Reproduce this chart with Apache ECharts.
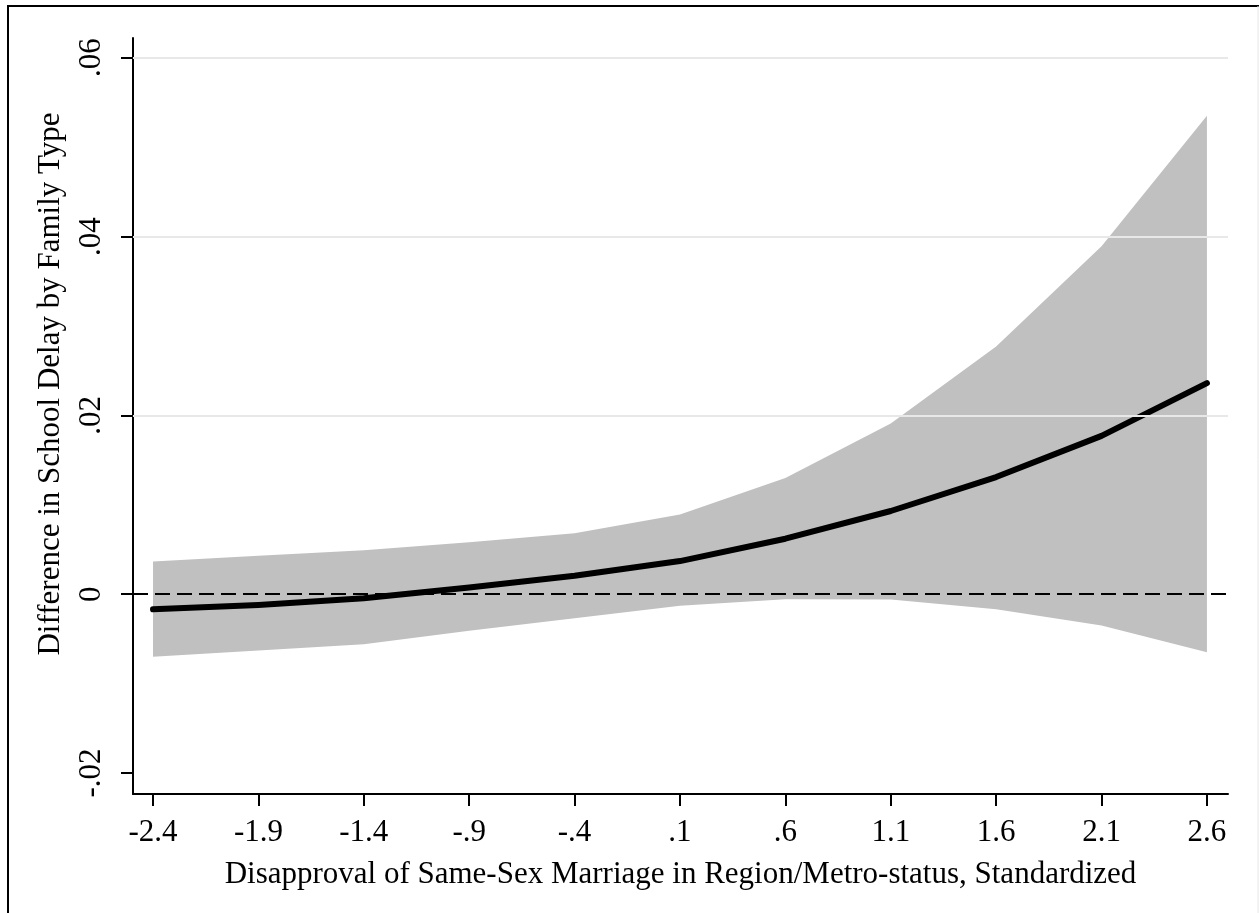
<!DOCTYPE html>
<html>
<head>
<meta charset="utf-8">
<script src="https://cdn.jsdelivr.net/npm/echarts@6/dist/echarts.min.js"></script>
<style>
  html, body { margin: 0; padding: 0; background: #fff; }
  #main { width: 1259px; height: 913px; }
</style>
</head>
<body>
<div id="main"></div>
<script>
  // x positions (standardized disapproval)
  var xValues = [-2.4, -1.9, -1.4, -0.9, -0.4, 0.1, 0.6, 1.1, 1.6, 2.1, 2.6];
  var xTickLabels = ['-2.4', '-1.9', '-1.4', '-.9', '-.4', '.1', '.6', '1.1', '1.6', '2.1', '2.6'];
  // marginal effect and 95% CI
  var effect = [-0.0017, -0.0012, -0.00045, 0.00075, 0.00205, 0.0037, 0.0062, 0.0093, 0.0131, 0.0177, 0.0236];
  var upperCI = [0.00365, 0.0043, 0.0049, 0.0058, 0.0068, 0.0089, 0.0130, 0.0191, 0.0277, 0.0389, 0.0535];
  var lowerCI = [-0.0070, -0.0063, -0.0056, -0.0041, -0.0027, -0.0013, -0.00056, -0.0006, -0.0017, -0.0035, -0.0065];
  var yTicks = [-0.02, 0, 0.02, 0.04, 0.06];
  var yTickLabels = ['-.02', '0', '.02', '.04', '.06'];
  var gridValues = [0.02, 0.04, 0.06];

  var serif = '"Liberation Serif", "Times New Roman", serif';

  function pairs(ys) {
    return xValues.map(function (x, i) { return [x, ys[i]]; });
  }
  function lookup(values, labels, v) {
    for (var i = 0; i < values.length; i++) {
      if (Math.abs(values[i] - v) < 1e-6) return labels[i];
    }
    return '';
  }

  var chart = echarts.init(document.getElementById('main'));
  chart.setOption({
    animation: false,
    backgroundColor: '#fff',
    grid: { left: 133, top: 38, right: 31, bottom: 119, containLabel: false },
    xAxis: {
      type: 'value',
      min: -2.495,
      max: 2.7,
      name: 'Disapproval of Same-Sex Marriage in Region/Metro-status, Standardized',
      nameLocation: 'middle',
      nameGap: 65,
      nameTextStyle: { fontFamily: serif, fontSize: 31, color: '#000' },
      axisLine: { onZero: false, lineStyle: { color: '#000', width: 2 } },
      axisTick: { customValues: xValues, length: 12, lineStyle: { color: '#000', width: 2 } },
      axisLabel: {
        customValues: xValues,
        margin: 23,
        fontFamily: serif, fontSize: 31, color: '#000',
        formatter: function (v) { return lookup(xValues, xTickLabels, v); }
      },
      splitLine: { show: false }
    },
    yAxis: {
      type: 'value',
      min: -0.02235,
      max: 0.0622,
      name: 'Difference in School Delay by Family Type',
      nameLocation: 'middle',
      nameGap: 67,
      nameTextStyle: { fontFamily: serif, fontSize: 31, color: '#000', padding: [0, 0, 0, 64] },
      axisLine: { show: true, onZero: false, lineStyle: { color: '#000', width: 2 } },
      axisTick: { show: true, customValues: yTicks, length: 12, lineStyle: { color: '#000', width: 2 } },
      axisLabel: {
        customValues: yTicks,
        rotate: 90,
        margin: 26,
        fontFamily: serif, fontSize: 31, color: '#000',
        formatter: function (v) { return lookup(yTicks, yTickLabels, v); }
      },
      splitLine: { show: false }
    },
    graphic: [
      { type: 'line', shape: { x1: 8, y1: 5, x2: 8, y2: 913 }, style: { stroke: '#000', lineWidth: 2 } },
      { type: 'line', shape: { x1: 8, y1: 6, x2: 1259, y2: 6 }, style: { stroke: '#000', lineWidth: 2 } },
      { type: 'line', shape: { x1: 1258, y1: 6, x2: 1258, y2: 913 }, style: { stroke: '#e6e6e6', lineWidth: 1 } }
    ],
    series: [
      {
        // gridlines
        type: 'line', data: [], z: 1, silent: true,
        markLine: {
          silent: true, symbol: 'none', label: { show: false },
          lineStyle: { color: '#e8e8e8', width: 2, type: 'solid' },
          data: gridValues.map(function (v) { return { yAxis: v }; })
        }
      },
      {
        // confidence band as one polygon
        type: 'custom', z: 2, silent: true,
        data: xValues.map(function (x, i) { return [x, lowerCI[i], upperCI[i]]; }),
        renderItem: function (params, api) {
          if (params.dataIndex !== 0) return null;
          var pts = [];
          for (var i = 0; i < xValues.length; i++) pts.push(api.coord([xValues[i], upperCI[i]]));
          for (var j = xValues.length - 1; j >= 0; j--) pts.push(api.coord([xValues[j], lowerCI[j]]));
          return { type: 'polygon', shape: { points: pts }, style: { fill: '#c0c0c0' } };
        }
      },
      {
        // zero reference line
        type: 'line', data: [], z: 3, silent: true,
        markLine: {
          silent: true, symbol: 'none', label: { show: false },
          lineStyle: { color: '#000', width: 2, type: [15, 7] },
          data: [{ yAxis: 0 }]
        }
      },
      {
        name: 'effect', type: 'line', data: pairs(effect), symbol: 'none', z: 4,
        lineStyle: { color: '#000', width: 6, cap: 'round', join: 'round' }
      }
    ]
  });
</script>
</body>
</html>
